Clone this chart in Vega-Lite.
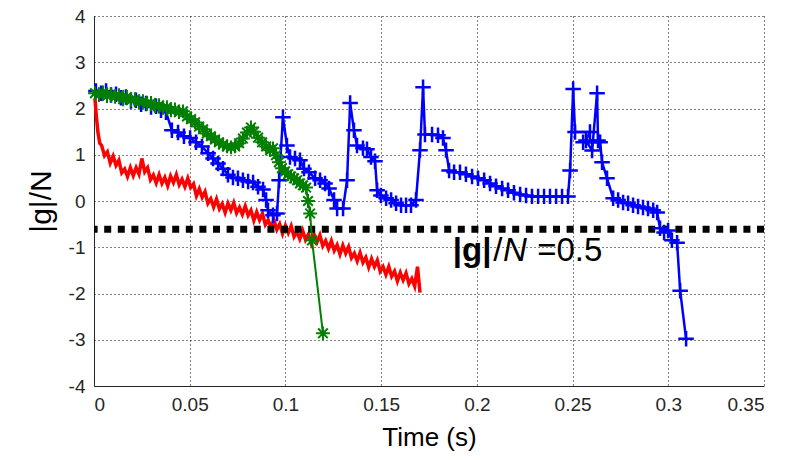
{
  "$schema": "https://vega.github.io/schema/vega-lite/v6.json",
  "width": 670,
  "height": 370,
  "autosize": {"type": "none"},
  "padding": {"left": 94, "top": 16, "right": 32, "bottom": 74},
  "background": "white",
  "config": {
    "view": {"stroke": null},
    "font": "Liberation Sans",
    "axis": {
      "domainColor": "#262626",
      "domainWidth": 1,
      "grid": true,
      "gridColor": "#000000",
      "gridDash": [1, 3],
      "gridWidth": 1,
      "ticks": false,
      "labelFont": "Liberation Sans",
      "labelFontSize": 19,
      "labelColor": "#262626",
      "titleFont": "Liberation Sans",
      "titleColor": "#000000",
      "titleFontWeight": "normal"
    },
    "axisX": {"labelPadding": 9, "titleFontSize": 26, "titlePadding": 10},
    "axisY": {"labelPadding": 9, "titleFontSize": 30, "titlePadding": 12}
  },
  "datasets": {
    "red": [
      {"i":1,"t":0.0005,"y":2.22},{"i":2,"t":0.0012,"y":1.85},{"i":3,"t":0.002,"y":1.5},{"i":4,"t":0.003,"y":1.25},
      {"i":5,"t":0.004,"y":1.2},{"i":6,"t":0.0055,"y":0.98},{"i":7,"t":0.007,"y":1.06},{"i":8,"t":0.0085,"y":0.82},
      {"i":9,"t":0.01,"y":0.97},{"i":10,"t":0.0115,"y":0.77},{"i":11,"t":0.013,"y":0.88},{"i":12,"t":0.0145,"y":0.61},
      {"i":13,"t":0.016,"y":0.69},{"i":14,"t":0.0175,"y":0.53},{"i":15,"t":0.019,"y":0.72},{"i":16,"t":0.0205,"y":0.55},
      {"i":17,"t":0.022,"y":0.72},{"i":18,"t":0.0235,"y":0.58},{"i":19,"t":0.025,"y":0.92},{"i":20,"t":0.0265,"y":0.63},
      {"i":21,"t":0.028,"y":0.72},{"i":22,"t":0.0295,"y":0.46},{"i":23,"t":0.031,"y":0.56},{"i":24,"t":0.0325,"y":0.39},
      {"i":25,"t":0.034,"y":0.57},{"i":26,"t":0.0355,"y":0.38},{"i":27,"t":0.037,"y":0.51},{"i":28,"t":0.0385,"y":0.33},
      {"i":29,"t":0.04,"y":0.54},{"i":30,"t":0.0415,"y":0.4},{"i":31,"t":0.043,"y":0.57},{"i":32,"t":0.0445,"y":0.35},
      {"i":33,"t":0.046,"y":0.47},{"i":34,"t":0.0475,"y":0.31},{"i":35,"t":0.049,"y":0.49},{"i":36,"t":0.0505,"y":0.29},
      {"i":37,"t":0.052,"y":0.37},{"i":38,"t":0.0535,"y":0.11},{"i":39,"t":0.055,"y":0.26},{"i":40,"t":0.0565,"y":0.08},
      {"i":41,"t":0.058,"y":0.2},{"i":42,"t":0.0595,"y":-0.05},{"i":43,"t":0.061,"y":0.05},{"i":44,"t":0.0625,"y":-0.13},
      {"i":45,"t":0.064,"y":0.04},{"i":46,"t":0.0655,"y":-0.17},{"i":47,"t":0.067,"y":-0.06},{"i":48,"t":0.0685,"y":-0.25},
      {"i":49,"t":0.07,"y":-0.05},{"i":50,"t":0.0715,"y":-0.2},{"i":51,"t":0.073,"y":-0.04},{"i":52,"t":0.0745,"y":-0.26},
      {"i":53,"t":0.076,"y":-0.14},{"i":54,"t":0.0775,"y":-0.29},{"i":55,"t":0.079,"y":-0.11},{"i":56,"t":0.0805,"y":-0.31},
      {"i":57,"t":0.082,"y":-0.2},{"i":58,"t":0.0835,"y":-0.42},{"i":59,"t":0.085,"y":-0.24},{"i":60,"t":0.0865,"y":-0.41},
      {"i":61,"t":0.088,"y":-0.27},{"i":62,"t":0.0895,"y":-0.51},{"i":63,"t":0.091,"y":-0.41},{"i":64,"t":0.0925,"y":-0.58},
      {"i":65,"t":0.094,"y":-0.41},{"i":66,"t":0.0955,"y":-0.62},{"i":67,"t":0.097,"y":-0.5},{"i":68,"t":0.0985,"y":-0.71},
      {"i":69,"t":0.1,"y":-0.53},{"i":70,"t":0.1015,"y":-0.69},{"i":71,"t":0.103,"y":-0.54},{"i":72,"t":0.1045,"y":-0.77},
      {"i":73,"t":0.106,"y":-0.66},{"i":74,"t":0.1075,"y":-0.82},{"i":75,"t":0.109,"y":-0.64},{"i":76,"t":0.1105,"y":-0.84},
      {"i":77,"t":0.112,"y":-0.72},{"i":78,"t":0.1135,"y":-0.92},{"i":79,"t":0.115,"y":-0.73},{"i":80,"t":0.1165,"y":-0.89},
      {"i":81,"t":0.118,"y":-0.74},{"i":82,"t":0.1195,"y":-0.97},{"i":83,"t":0.121,"y":-0.86},{"i":84,"t":0.1225,"y":-1.03},
      {"i":85,"t":0.124,"y":-0.86},{"i":86,"t":0.1255,"y":-1.07},{"i":87,"t":0.127,"y":-0.95},{"i":88,"t":0.1285,"y":-1.15},
      {"i":89,"t":0.13,"y":-0.96},{"i":90,"t":0.1315,"y":-1.13},{"i":91,"t":0.133,"y":-0.99},{"i":92,"t":0.1345,"y":-1.23},
      {"i":93,"t":0.136,"y":-1.13},{"i":94,"t":0.1375,"y":-1.3},{"i":95,"t":0.139,"y":-1.12},{"i":96,"t":0.1405,"y":-1.33},
      {"i":97,"t":0.142,"y":-1.22},{"i":98,"t":0.1435,"y":-1.43},{"i":99,"t":0.145,"y":-1.25},{"i":100,"t":0.1465,"y":-1.42},
      {"i":101,"t":0.148,"y":-1.28},{"i":102,"t":0.1495,"y":-1.52},{"i":103,"t":0.151,"y":-1.42},{"i":104,"t":0.1525,"y":-1.59},
      {"i":105,"t":0.154,"y":-1.42},{"i":106,"t":0.1555,"y":-1.63},{"i":107,"t":0.157,"y":-1.52},{"i":108,"t":0.1585,"y":-1.73},
      {"i":109,"t":0.16,"y":-1.55},{"i":110,"t":0.1615,"y":-1.71},{"i":111,"t":0.163,"y":-1.56},{"i":112,"t":0.1645,"y":-1.79},
      {"i":113,"t":0.166,"y":-1.68},{"i":114,"t":0.1675,"y":-1.84},{"i":115,"t":0.169,"y":-1.42},{"i":116,"t":0.1703,"y":-1.98}
    ],
    "green": [
      {"i":1,"t":0.0005,"y":2.33},{"i":2,"t":0.0026,"y":2.29},{"i":3,"t":0.0047,"y":2.35},{"i":4,"t":0.0068,"y":2.27},
      {"i":5,"t":0.0089,"y":2.31},{"i":6,"t":0.011,"y":2.25},{"i":7,"t":0.0131,"y":2.29},{"i":8,"t":0.0152,"y":2.2},
      {"i":9,"t":0.0172,"y":2.25},{"i":10,"t":0.0193,"y":2.18},{"i":11,"t":0.0214,"y":2.2},{"i":12,"t":0.0235,"y":2.14},
      {"i":13,"t":0.0256,"y":2.16},{"i":14,"t":0.0277,"y":2.1},{"i":15,"t":0.0298,"y":2.12},{"i":16,"t":0.0319,"y":2.05},
      {"i":17,"t":0.034,"y":2.07},{"i":18,"t":0.036,"y":2.01},{"i":19,"t":0.0381,"y":2.03},{"i":20,"t":0.0402,"y":1.96},
      {"i":21,"t":0.0423,"y":1.98},{"i":22,"t":0.0444,"y":1.92},{"i":23,"t":0.0465,"y":1.94},{"i":24,"t":0.0486,"y":1.83},
      {"i":25,"t":0.0507,"y":1.77},{"i":26,"t":0.0528,"y":1.7},{"i":27,"t":0.0549,"y":1.61},{"i":28,"t":0.057,"y":1.55},
      {"i":29,"t":0.059,"y":1.46},{"i":30,"t":0.0611,"y":1.4},{"i":31,"t":0.0632,"y":1.33},{"i":32,"t":0.0653,"y":1.27},
      {"i":33,"t":0.0674,"y":1.22},{"i":34,"t":0.0695,"y":1.18},{"i":35,"t":0.0716,"y":1.16},{"i":36,"t":0.0737,"y":1.18},
      {"i":37,"t":0.0758,"y":1.25},{"i":38,"t":0.0778,"y":1.35},{"i":39,"t":0.0799,"y":1.48},{"i":40,"t":0.082,"y":1.59},
      {"i":41,"t":0.0836,"y":1.5},{"i":42,"t":0.0857,"y":1.37},{"i":43,"t":0.0878,"y":1.27},{"i":44,"t":0.0899,"y":1.18},
      {"i":45,"t":0.092,"y":1.1},{"i":46,"t":0.0935,"y":1.14},{"i":47,"t":0.0951,"y":0.99},{"i":48,"t":0.0966,"y":0.84},
      {"i":49,"t":0.0982,"y":0.71},{"i":50,"t":0.0998,"y":0.64},{"i":51,"t":0.1014,"y":0.58},{"i":52,"t":0.1029,"y":0.53},
      {"i":53,"t":0.1045,"y":0.49},{"i":54,"t":0.1061,"y":0.45},{"i":55,"t":0.1076,"y":0.38},{"i":56,"t":0.1092,"y":0.34},
      {"i":57,"t":0.1108,"y":0.29},{"i":58,"t":0.1118,"y":0.0},{"i":59,"t":0.1129,"y":-0.27},{"i":60,"t":0.1139,"y":-0.85},
      {"i":61,"t":0.1196,"y":-2.86}
    ],
    "blue": [
      {"i":1,"t":0.001,"y":2.38},{"i":2,"t":0.0037,"y":2.33},{"i":3,"t":0.0063,"y":2.38},{"i":4,"t":0.0089,"y":2.29},
      {"i":5,"t":0.0115,"y":2.31},{"i":6,"t":0.0141,"y":2.23},{"i":7,"t":0.0167,"y":2.25},{"i":8,"t":0.0193,"y":2.16},
      {"i":9,"t":0.0219,"y":2.18},{"i":10,"t":0.0246,"y":2.09},{"i":11,"t":0.0272,"y":2.11},{"i":12,"t":0.0298,"y":2.03},
      {"i":13,"t":0.0324,"y":2.05},{"i":14,"t":0.035,"y":1.96},{"i":15,"t":0.0376,"y":1.92},{"i":16,"t":0.0407,"y":1.53},
      {"i":17,"t":0.0439,"y":1.48},{"i":18,"t":0.047,"y":1.4},{"i":19,"t":0.0502,"y":1.36},{"i":20,"t":0.0533,"y":1.27},
      {"i":21,"t":0.0564,"y":1.18},{"i":22,"t":0.0596,"y":1.03},{"i":23,"t":0.0622,"y":0.92},{"i":24,"t":0.0648,"y":0.81},
      {"i":25,"t":0.0674,"y":0.7},{"i":26,"t":0.07,"y":0.57},{"i":27,"t":0.0726,"y":0.51},{"i":28,"t":0.0752,"y":0.49},
      {"i":29,"t":0.0778,"y":0.45},{"i":30,"t":0.0805,"y":0.42},{"i":31,"t":0.0831,"y":0.4},{"i":32,"t":0.0857,"y":0.31},
      {"i":33,"t":0.0883,"y":0.25},{"i":34,"t":0.0899,"y":0.02},{"i":35,"t":0.0909,"y":-0.2},{"i":36,"t":0.0935,"y":-0.31},
      {"i":37,"t":0.0956,"y":-0.27},{"i":38,"t":0.0967,"y":0.45},{"i":39,"t":0.0987,"y":1.81},{"i":40,"t":0.1008,"y":1.2},
      {"i":41,"t":0.1024,"y":0.95},{"i":42,"t":0.105,"y":0.92},{"i":43,"t":0.1076,"y":0.88},{"i":44,"t":0.1097,"y":0.7},
      {"i":45,"t":0.1123,"y":0.62},{"i":46,"t":0.1155,"y":0.49},{"i":47,"t":0.1181,"y":0.45},{"i":48,"t":0.1207,"y":0.38},
      {"i":49,"t":0.1228,"y":0.27},{"i":50,"t":0.1254,"y":0.02},{"i":51,"t":0.127,"y":-0.16},{"i":52,"t":0.1301,"y":-0.16},
      {"i":53,"t":0.1322,"y":0.45},{"i":54,"t":0.1338,"y":2.12},{"i":55,"t":0.1358,"y":1.53},{"i":56,"t":0.1374,"y":1.2},
      {"i":57,"t":0.1405,"y":1.14},{"i":58,"t":0.1426,"y":1.12},{"i":59,"t":0.1447,"y":0.95},{"i":60,"t":0.1468,"y":0.86},
      {"i":61,"t":0.1479,"y":0.23},{"i":62,"t":0.1499,"y":0.12},{"i":63,"t":0.1526,"y":0.06},{"i":64,"t":0.1552,"y":0.02},
      {"i":65,"t":0.1578,"y":-0.05},{"i":66,"t":0.1604,"y":-0.09},{"i":67,"t":0.163,"y":-0.09},{"i":68,"t":0.1656,"y":-0.09},
      {"i":69,"t":0.1682,"y":0.02},{"i":70,"t":0.1703,"y":1.1},{"i":71,"t":0.1719,"y":2.46},{"i":72,"t":0.1729,"y":1.44},
      {"i":73,"t":0.1766,"y":1.44},{"i":74,"t":0.1797,"y":1.42},{"i":75,"t":0.1823,"y":1.36},{"i":76,"t":0.1839,"y":1.1},
      {"i":77,"t":0.1855,"y":0.66},{"i":78,"t":0.1881,"y":0.62},{"i":79,"t":0.1912,"y":0.62},{"i":80,"t":0.1943,"y":0.58},
      {"i":81,"t":0.1975,"y":0.53},{"i":82,"t":0.2006,"y":0.49},{"i":83,"t":0.2038,"y":0.45},{"i":84,"t":0.2069,"y":0.38},
      {"i":85,"t":0.21,"y":0.32},{"i":86,"t":0.2132,"y":0.27},{"i":87,"t":0.2163,"y":0.23},{"i":88,"t":0.2194,"y":0.18},
      {"i":89,"t":0.2226,"y":0.14},{"i":90,"t":0.2257,"y":0.12},{"i":91,"t":0.2288,"y":0.1},{"i":92,"t":0.232,"y":0.1},
      {"i":93,"t":0.2351,"y":0.1},{"i":94,"t":0.2382,"y":0.1},{"i":95,"t":0.2414,"y":0.1},{"i":96,"t":0.2445,"y":0.1},
      {"i":97,"t":0.2476,"y":0.1},{"i":98,"t":0.2487,"y":0.66},{"i":99,"t":0.2503,"y":2.42},{"i":100,"t":0.2513,"y":1.49},
      {"i":101,"t":0.2591,"y":1.49},{"i":102,"t":0.257,"y":1.31},{"i":103,"t":0.2602,"y":1.09},{"i":104,"t":0.2628,"y":2.33},
      {"i":105,"t":0.2633,"y":1.31},{"i":106,"t":0.2555,"y":1.27},{"i":107,"t":0.2644,"y":1.27},{"i":108,"t":0.2654,"y":0.84},
      {"i":109,"t":0.268,"y":0.49},{"i":110,"t":0.2712,"y":0.06},{"i":111,"t":0.2738,"y":0.02},{"i":112,"t":0.2764,"y":-0.03},
      {"i":113,"t":0.279,"y":-0.05},{"i":114,"t":0.2816,"y":-0.09},{"i":115,"t":0.2842,"y":-0.12},{"i":116,"t":0.2868,"y":-0.14},
      {"i":117,"t":0.2894,"y":-0.16},{"i":118,"t":0.2921,"y":-0.2},{"i":119,"t":0.2942,"y":-0.25},{"i":120,"t":0.2957,"y":-0.59},
      {"i":121,"t":0.2978,"y":-0.68},{"i":122,"t":0.2999,"y":-0.64},{"i":123,"t":0.3019,"y":-0.85},{"i":124,"t":0.3046,"y":-0.9},
      {"i":125,"t":0.3062,"y":-1.94},{"i":126,"t":0.3093,"y":-2.98}
    ]
  },
  "layer": [
    {
      "data": {"name": "red"},
      "mark": {"type": "line", "color": "#ff0000", "strokeWidth": 3.5},
      "encoding": {
        "x": {"field": "t", "type": "quantitative", "title": "Time (s)", "scale": {"domain": [0, 0.35], "nice": false, "zero": false}, "axis": {"values": [0, 0.05, 0.1, 0.15, 0.2, 0.25, 0.3, 0.35], "labelExpr": "'' + datum.value"}},
        "y": {"field": "y", "type": "quantitative", "title": "|g|/N", "scale": {"domain": [-4, 4], "nice": false}, "axis": {"values": [-4, -3, -2, -1, 0, 1, 2, 3, 4], "labelExpr": "'' + datum.value"}},
        "order": {"field": "i", "type": "quantitative"}
      }
    },
    {
      "data": {"values": [{"level": -0.61}]},
      "mark": {"type": "rule", "color": "#000000", "strokeWidth": 7, "strokeDash": [7, 6.6]},
      "encoding": {
        "y": {"field": "level", "type": "quantitative", "title": "|g|/N"}
      }
    },
    {
      "data": {"name": "blue"},
      "mark": {"type": "line", "color": "#0000ff", "strokeWidth": 2.5},
      "encoding": {
        "x": {"field": "t", "type": "quantitative", "title": "Time (s)"},
        "y": {"field": "y", "type": "quantitative", "title": "|g|/N"},
        "order": {"field": "i", "type": "quantitative"}
      }
    },
    {
      "data": {"name": "blue"},
      "mark": {"type": "point", "shape": "M-1,0L1,0M0,-1L0,1", "filled": false, "stroke": "#0000ff", "strokeWidth": 2.5, "size": 240, "opacity": 1},
      "encoding": {
        "x": {"field": "t", "type": "quantitative", "title": "Time (s)"},
        "y": {"field": "y", "type": "quantitative", "title": "|g|/N"}
      }
    },
    {
      "data": {"name": "green"},
      "mark": {"type": "line", "color": "#007f00", "strokeWidth": 2},
      "encoding": {
        "x": {"field": "t", "type": "quantitative", "title": "Time (s)"},
        "y": {"field": "y", "type": "quantitative", "title": "|g|/N"},
        "order": {"field": "i", "type": "quantitative"}
      }
    },
    {
      "data": {"name": "green"},
      "mark": {"type": "point", "shape": "M-1,0L1,0M0,-1L0,1M-0.7,-0.7L0.7,0.7M-0.7,0.7L0.7,-0.7", "filled": false, "stroke": "#007f00", "strokeWidth": 2, "size": 190, "opacity": 1},
      "encoding": {
        "x": {"field": "t", "type": "quantitative", "title": "Time (s)"},
        "y": {"field": "y", "type": "quantitative", "title": "|g|/N"}
      }
    },
    {
      "data": {"values": [{"label": "|g|", "t": 0.1874, "y": -1.305}]},
      "mark": {"type": "text", "align": "left", "baseline": "alphabetic", "font": "Liberation Sans", "fontSize": 33, "fontWeight": "bold", "color": "#000000"},
      "encoding": {
        "x": {"field": "t", "type": "quantitative", "title": "Time (s)"},
        "y": {"field": "y", "type": "quantitative", "title": "|g|/N"},
        "text": {"field": "label"}
      }
    },
    {
      "data": {"values": [{"label": "/", "t": 0.2085, "y": -1.305}]},
      "mark": {"type": "text", "align": "left", "baseline": "alphabetic", "font": "Liberation Sans", "fontSize": 33, "color": "#000000"},
      "encoding": {
        "x": {"field": "t", "type": "quantitative", "title": "Time (s)"},
        "y": {"field": "y", "type": "quantitative", "title": "|g|/N"},
        "text": {"field": "label"}
      }
    },
    {
      "data": {"values": [{"label": "N", "t": 0.2136, "y": -1.305}]},
      "mark": {"type": "text", "align": "left", "baseline": "alphabetic", "font": "Liberation Sans", "fontSize": 33, "fontStyle": "italic", "color": "#000000"},
      "encoding": {
        "x": {"field": "t", "type": "quantitative", "title": "Time (s)"},
        "y": {"field": "y", "type": "quantitative", "title": "|g|/N"},
        "text": {"field": "label"}
      }
    },
    {
      "data": {"values": [{"label": "=0.5", "t": 0.2315, "y": -1.305}]},
      "mark": {"type": "text", "align": "left", "baseline": "alphabetic", "font": "Liberation Sans", "fontSize": 33, "color": "#000000"},
      "encoding": {
        "x": {"field": "t", "type": "quantitative", "title": "Time (s)"},
        "y": {"field": "y", "type": "quantitative", "title": "|g|/N"},
        "text": {"field": "label"}
      }
    }
  ]
}
